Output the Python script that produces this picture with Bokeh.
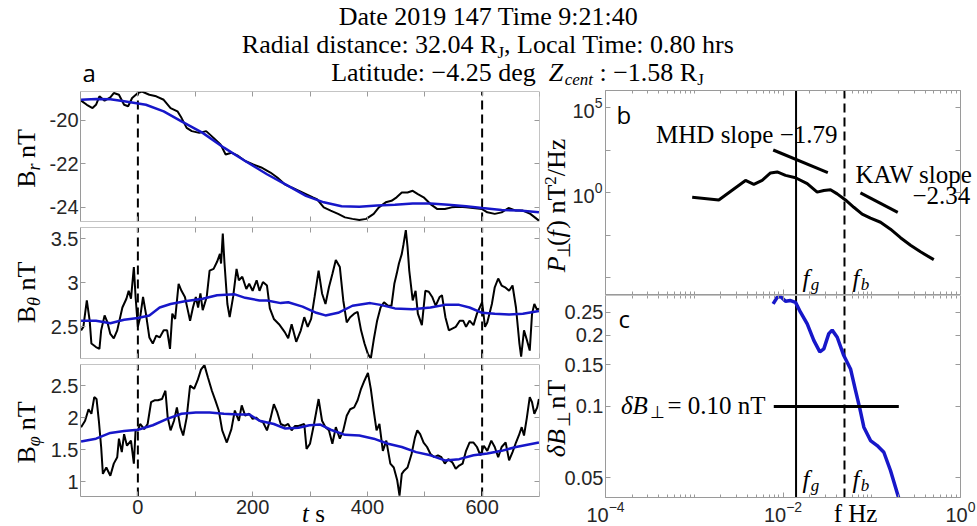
import math
from bokeh.plotting import figure
from bokeh.models import (Label, Range1d, FixedTicker, CustomJSTickFormatter,
                          LogTickFormatter, BoxAnnotation, LinearAxis, LogAxis)
from bokeh.layouts import column, row
from bokeh.embed import file_html
from bokeh.resources import INLINE

# ---------------------------------------------------------------- data
br_t = [-99, -89, -79, -73, -67, -58, -48, -42, -33, -24,
        -17, -10, 0, 7, 20, 32, 45, 57, 69, 76,
        85, 94, 107, 119, 132, 144, 153, 163, 175, 187,
        200, 215, 231, 243, 256, 268, 281, 293, 305, 312,
        324, 336, 349, 361, 374, 386, 398, 411, 420, 432,
        442, 451, 460, 470, 479, 488, 498, 510, 522, 535,
        547, 560, 572, 584, 600, 609, 622, 634, 646, 659,
        671, 684, 699]
br_v = [-19.10, -19.29, -19.44, -19.29, -18.90, -19.10, -18.95, -18.75, -18.83, -19.29,
        -19.36, -18.98, -18.75, -18.68, -18.83, -18.90, -19.06, -19.44, -19.59, -19.89,
        -20.35, -20.50, -20.58, -20.50, -20.81, -21.11, -21.57, -21.49, -21.64, -21.87,
        -22.02, -22.17, -22.40, -22.63, -22.94, -23.09, -23.24, -23.39, -23.54, -23.62,
        -24.00, -24.15, -24.30, -24.46, -24.53, -24.58, -24.53, -24.30, -24.00, -23.77,
        -23.70, -23.54, -23.32, -23.32, -23.24, -23.39, -23.54, -23.85, -24.08, -24.08,
        -24.00, -23.97, -24.00, -24.03, -24.08, -24.23, -24.30, -24.23, -24.03, -24.15,
        -24.15, -24.30, -24.61]
br_fit_t = [-99, -73, -48, -24, 14, 45, 76, 113, 150, 187, 225, 262, 293, 324, 355,
            386, 417, 448, 479, 510, 541, 572, 600, 634, 665, 699]
br_fit_v = [-19.06, -19.03, -19.04, -19.13, -19.29, -19.59, -20.05, -20.58, -21.26, -21.87,
            -22.48, -23.01, -23.47, -23.77, -23.95, -23.97, -23.92, -23.88, -23.82, -23.82,
            -23.88, -23.95, -24.03, -24.12, -24.15, -24.23]

bth_t = [-99, -95, -89, -84, -81, -73, -67, -64, -58, -53,
         -48, -42, -36, -27, -20, -16, -12, -7, -4, 0,
         4, 9, 14, 20, 26, 32, 38, 45, 51, 56,
         60, 65, 71, 76, 82, 87, 91, 96, 101, 105,
         109, 113, 120, 125, 132, 138, 143, 145, 148, 151,
         156, 160, 166, 172, 176, 182, 189, 194, 200, 207,
         212, 218, 225, 230, 237, 246, 256, 262, 268, 276,
         284, 290, 296, 302, 308, 315, 321, 327, 333, 339,
         345, 352, 358, 364, 370, 377, 383, 389, 395, 401,
         406, 411, 417, 423, 429, 436, 442, 447, 451, 455,
         460, 463, 467, 470, 473, 479, 484, 488, 495, 501,
         507, 513, 519, 526, 530, 536, 542, 548, 554, 561,
         567, 572, 578, 585, 591, 600, 605, 609, 617, 622,
         628, 634, 640, 647, 653, 659, 665, 668, 673, 678,
         683, 687, 691, 696, 699]
bth_v = [2.46, 2.50, 2.80, 2.57, 2.31, 2.27, 2.25, 2.46, 2.63, 2.55,
         2.42, 2.37, 2.46, 2.72, 2.82, 2.91, 2.82, 3.18, 2.84, 2.50,
         2.61, 2.84, 2.65, 2.38, 2.31, 2.40, 2.38, 2.46, 2.46, 2.25,
         2.65, 2.59, 2.99, 2.91, 2.84, 2.69, 2.57, 2.72, 2.84, 2.72,
         2.88, 2.69, 2.84, 3.14, 3.16, 3.24, 3.33, 3.22, 3.56, 3.22,
         2.76, 2.61, 2.84, 3.16, 3.03, 3.07, 2.93, 2.99, 2.91, 3.03,
         2.91, 3.01, 2.97, 2.71, 2.59, 2.53, 2.44, 2.37, 2.53, 2.33,
         2.46, 2.61, 2.50, 2.59, 2.84, 3.14, 2.88, 2.76, 2.95, 3.10,
         3.26, 3.18, 2.80, 2.55, 2.61, 2.65, 2.67, 2.46, 2.31, 2.19,
         2.14, 2.35, 2.57, 2.72, 2.78, 2.74, 2.74, 2.99, 3.10, 3.22,
         3.33, 3.44, 3.60, 3.41, 3.14, 2.80, 2.91, 2.65, 2.52, 2.91,
         2.90, 2.84, 2.74, 2.84, 2.86, 2.61, 2.46, 2.48, 2.50, 2.57,
         2.57, 2.50, 2.57, 2.52, 2.65, 2.78, 2.50, 2.55, 2.76, 2.95,
         3.05, 2.97, 2.95, 2.91, 2.97, 2.72, 2.31, 2.16, 2.46, 2.35,
         2.23, 2.65, 2.76, 2.69, 2.71]
bth_fit_t = [-99, -73, -48, -24, 0, 20, 38, 57, 82, 113, 138, 169, 187, 212, 225,
             249, 262, 287, 311, 327, 349, 374, 405, 423, 448, 479, 510, 535, 560, 578,
             600, 622, 647, 671, 699]
bth_fit_v = [2.57, 2.57, 2.54, 2.58, 2.60, 2.63, 2.72, 2.76, 2.79, 2.82, 2.86, 2.87, 2.83, 2.80, 2.80,
             2.77, 2.78, 2.73, 2.66, 2.63, 2.66, 2.74, 2.77, 2.75, 2.71, 2.70, 2.72, 2.75, 2.75, 2.72,
             2.66, 2.65, 2.64, 2.65, 2.68]

bph_t = [-99, -92, -86, -81, -76, -72, -68, -64, -61, -55,
         -48, -42, -36, -33, -28, -24, -19, -12, -7, -4,
         0, 4, 11, 17, 23, 29, 35, 42, 48, 52,
         57, 63, 68, 74, 79, 85, 91, 98, 104, 110,
         116, 122, 129, 135, 141, 147, 155, 163, 169, 176,
         181, 187, 194, 200, 206, 212, 218, 225, 231, 237,
         243, 249, 256, 262, 268, 274, 280, 290, 294, 300,
         307, 315, 321, 327, 333, 339, 345, 352, 358, 364,
         370, 377, 383, 389, 395, 401, 406, 411, 416, 421,
         427, 433, 440, 446, 452, 456, 460, 464, 470, 477,
         483, 487, 492, 498, 504, 510, 517, 523, 529, 535,
         541, 548, 554, 560, 566, 572, 578, 585, 591, 597,
         603, 609, 616, 622, 628, 634, 641, 647, 653, 659,
         664, 669, 673, 678, 683, 687, 691, 696, 699]
bph_v = [1.85, 1.95, 2.13, 2.06, 2.32, 2.29, 1.95, 1.54, 1.12, 1.22,
         1.09, 1.28, 1.38, 1.67, 1.46, 1.74, 1.56, 1.64, 1.28, 1.80,
         1.80, 1.90, 1.82, 1.90, 2.24, 2.27, 2.27, 2.29, 2.42, 2.00,
         1.80, 1.95, 2.16, 1.85, 1.72, 2.00, 2.50, 2.45, 2.58, 2.75,
         2.82, 2.63, 2.42, 2.27, 2.11, 1.80, 1.61, 1.82, 2.11, 1.95,
         2.19, 2.03, 2.06, 1.98, 2.00, 1.95, 1.93, 1.80, 1.98, 2.21,
         2.08, 1.90, 1.87, 1.90, 1.80, 1.87, 1.87, 1.90, 1.51, 1.59,
         1.90, 2.29, 1.95, 1.85, 1.80, 1.59, 1.85, 1.67, 1.80, 2.03,
         2.13, 2.16, 2.27, 2.45, 2.58, 2.70, 2.45, 2.11, 1.80, 1.90,
         1.48, 1.64, 1.28, 1.22, 1.02, 0.78, 1.12, 1.17, 1.22, 1.43,
         1.69, 1.80, 1.74, 1.61, 1.54, 1.43, 1.38, 1.41, 1.38, 1.28,
         1.35, 1.30, 1.20, 1.25, 1.28, 1.48, 1.61, 1.61, 1.54, 1.41,
         1.56, 1.48, 1.64, 1.54, 1.38, 1.54, 1.61, 1.33, 1.46, 1.61,
         1.72, 1.85, 1.72, 2.00, 2.32, 2.24, 2.06, 2.16, 2.29]
bph_fit_t = [-99, -73, -48, -24, 0, 26, 51, 76, 101, 125, 150, 175, 194, 212, 237,
             256, 280, 299, 318, 336, 361, 386, 411, 436, 460, 485, 510, 535, 560, 585,
             609, 634, 659, 699]
bph_fit_v = [1.625, 1.67, 1.76, 1.79, 1.81, 1.88, 1.98, 2.06, 2.08, 2.08, 2.06, 2.05, 2.05, 1.95, 1.90,
             1.83, 1.84, 1.88, 1.89, 1.81, 1.73, 1.72, 1.67, 1.59, 1.54, 1.46, 1.41, 1.33, 1.35, 1.41,
             1.44, 1.48, 1.54, 1.61]

window_edges = [0, 600]

t_ticks = [0, 200, 400, 600]
t_minor = [-100, 100, 300, 500, 700]
br_ticks = [-24, -22, -20]
bth_ticks = [2.5, 3, 3.5]
bph_ticks = [1, 1.5, 2, 2.5]

psd_f = [0.000948, 0.00189, 0.00378, 0.00469, 0.00582, 0.00723, 0.00861, 0.01067, 0.01384,
         0.01875, 0.02427, 0.02884, 0.03428, 0.04083, 0.05058, 0.06281, 0.07798, 0.09683,
         0.1256, 0.1626, 0.2109, 0.2735, 0.3540, 0.5000]
psd_p = [0.525, 0.363, 5.13, 3.02, 5.13, 14.1, 16.2, 10.2, 7.41,
         3.31, 1.05, 1.32, 1.45, 0.832, 0.363, 0.135, 0.0537, 0.0309,
         0.0178, 0.00692, 0.00219, 0.000794, 0.000324, 0.000112]
mhd_f = [0.00776, 0.0320]
mhd_p = [316.0, 14.8]
kaw_f = [0.0746, 0.1963]
kaw_p = [0.955, 0.0676]
f_g = 0.01403
f_b = 0.0493

db_f = [0.00774, 0.00861, 0.00938, 0.01067, 0.01216, 0.01384, 0.01574, 0.01875, 0.02223,
        0.02600, 0.02884, 0.03281, 0.03581, 0.04083, 0.04842, 0.05768, 0.06561, 0.07345,
        0.08147, 0.09683, 0.1151, 0.1368, 0.1626, 0.2005]
db_v = [0.271, 0.289, 0.291, 0.278, 0.280, 0.275, 0.250, 0.223, 0.190,
        0.170, 0.175, 0.203, 0.210, 0.196, 0.164, 0.144, 0.117, 0.098,
        0.0818, 0.0718, 0.0684, 0.0641, 0.0537, 0.0413]
db_level = 0.10
db_level_f = [0.00787, 0.2018]

f_ticks = [1e-4, 1e-2, 1.0]
f_minor = [k * 10.0 ** e for e in range(-4, 0) for k in range(1, 10) if not (k == 1 and e in (-4, -2))]
p_ticks = [1.0, 1e5]
p_minor = [1e-5, 10 ** -2.5, 10 ** 2.5]
db_ticks = [0.05, 0.1, 0.15, 0.2, 0.25]

title_1 = "Date 2019 147 Time 9:21:40"
title_2a, title_2b = "Radial distance: 32.04 R", ", Local Time: 0.80 hrs"
title_3a, title_3b = "Latitude: \u22124.25 deg  ", " : \u22121.58 R"

# ---------------------------------------------------------------- geometry (page px)
LX0, LX1 = 78, 539
RX0, RX1 = 605, 960
PA, PB, PC = (91, 221), (227, 358), (364, 496)
PD, PE = (90, 294), (295, 497)
BOTTOM = 526
RIGHT = 977
LSTRIP = 46         # width of the strip holding the left y labels
RCOL = 540          # left page edge of the right-hand panel column
T_RANGE = (-100, 700)
BR_RANGE = (-24.65, -18.68)
BTH_RANGE = (2.14, 3.63)
BPH_RANGE = (0.766, 2.83)
F_RANGE = (1e-4, 1.0)
P_RANGE = (1e-6, 1e6)
DB_RANGE = (0.0413, 0.294)

GRAY = "#9a9a9a"
TICKC = "#262626"
BLUE = "#1717c9"
SERIF = "Liberation Serif"
SANS = "Liberation Sans"
LETTER = "Open Sans"
TICK_SIZE = "20px"
TXT = 25


def make_conv(x0, x1, y0, y1, xr, yr, xlog=False, ylog=False):
    def one(frac, r, lg):
        if lg:
            a, b = math.log10(r[0]), math.log10(r[1])
            return 10 ** (a + frac * (b - a))
        return r[0] + frac * (r[1] - r[0])

    def conv(X, Y):
        fx = (X - x0) / (x1 - x0)
        fy = (y1 - Y) / (y1 - y0)
        return one(fx, xr, xlog), one(fy, yr, ylog)
    return conv


W = {' ': .25, 'a': .444, 'b': .5, 'c': .444, 'd': .5, 'e': .444, 'f': .333, 'g': .5, 'h': .5,
     'i': .278, 'j': .278, 'k': .5, 'l': .278, 'm': .778, 'n': .5, 'o': .5, 'p': .5, 'q': .5,
     'r': .333, 's': .389, 't': .278, 'u': .5, 'v': .5, 'w': .722, 'x': .5, 'y': .5, 'z': .444,
     'A': .722, 'B': .667, 'C': .667, 'D': .722, 'E': .611, 'F': .556, 'G': .722, 'H': .722,
     'I': .333, 'J': .389, 'K': .722, 'L': .611, 'M': .889, 'N': .722, 'O': .722, 'P': .556,
     'R': .667, 'S': .556, 'T': .611, 'W': .944, 'Z': .611, '.': .25, ',': .25, ':': .278,
     '\u2212': .564, '-': .333, '=': .564, '(': .333, ')': .333, '/': .278, '\u22a5': .66,
     '\u03b4': .49, '\u03b8': .5, '\u03c6': .52}


def tw(s, size):
    return sum(W.get(c, .5) for c in s) * size


def put(fig, conv, X, Y, text, size, style="normal", angle=0.0, font=SERIF, align="left"):
    """X, Y: page position of the start of the text baseline."""
    k = 0.388 if font == LETTER else 0.3375
    if angle == 0:
        Y = Y - k * size
    else:
        X = X - k * size
    x, y = conv(X, Y)
    fig.add_layout(Label(x=x, y=y, text=text, text_font=font, text_font_size=f"{size}px",
                         text_font_style=style, angle=angle, text_align=align,
                         text_baseline="middle", text_color="black"))


def hrow(fig, conv, X, Y, segs, anchor="left"):
    if len(segs) == 1 and anchor != "left":
        t, s, st, dy = segs[0]
        put(fig, conv, X, Y + dy, t, s, st, align=anchor)
        return
    total = sum(tw(t, s) for t, s, st, dy in segs)
    if anchor == "center":
        X -= total / 2
    elif anchor == "right":
        X -= total
    for t, s, st, dy in segs:
        body = t.lstrip(" ")
        X += tw(t[:len(t) - len(body)], s)
        put(fig, conv, X, Y + dy, body, s, st)
        X += tw(body, s)


def vrow(fig, conv, X, Yc, segs):
    total = sum(tw(t, s) for t, s, st, dy in segs)
    Y = Yc + total / 2
    for t, s, st, dy in segs:
        body = t.lstrip(" ")
        Y -= tw(t[:len(t) - len(body)], s)
        put(fig, conv, X + dy, Y, body, s, st, angle=math.pi / 2)
        Y -= tw(body, s)


def style_axis(ax, minor_in=3, standoff=3, labels=True):
    ax.axis_line_color = GRAY
    ax.major_tick_line_color = GRAY
    ax.minor_tick_line_color = GRAY
    ax.major_tick_in = 5
    ax.major_tick_out = 0
    ax.minor_tick_in = minor_in
    ax.minor_tick_out = 0
    ax.major_label_text_font = SANS
    ax.major_label_text_font_size = TICK_SIZE
    ax.major_label_text_color = TICKC if labels else None
    ax.major_label_standoff = standoff


def tick_axis(p, side, loc, ticks, minor=None, log=False, bounds=None, minor_in=3):
    """Box-edge tick marks without labels (fixed inside the frame, so no layout room)."""
    ax = (LogAxis if log else LinearAxis)(ticker=FixedTicker(ticks=ticks, minor_ticks=minor or []))
    ax.fixed_location = loc
    if bounds is not None:
        ax.bounds = bounds
    style_axis(ax, minor_in=minor_in, labels=False)
    p.add_layout(ax, side)


def bare(p):
    p.xgrid.grid_line_color = None
    p.ygrid.grid_line_color = None
    p.outline_line_color = None


def box(p, xr, yr):
    p.add_layout(BoxAnnotation(left=xr[0], right=xr[1], bottom=yr[0], top=yr[1],
                               fill_alpha=0, line_color=GRAY, line_width=1))


plain = CustomJSTickFormatter(code="return tick.toString();")
ident = lambda X, Y: (X, Y)


def text_strip(width, height, x0, y0):
    s = figure(width=width, height=height, x_range=Range1d(x0, x0 + width),
               y_range=Range1d(y0 + height, y0), output_backend="svg", toolbar_location=None,
               min_border=0, x_axis_location=None, y_axis_location=None)
    bare(s)
    return s


# ---------------------------------------------------------------- title
title = text_strip(RIGHT, 88, 0, 0)
hrow(title, ident, 488, 25, [(title_1, 26, "normal", 0)], anchor="center")
hrow(title, ident, 488, 53, [(title_2a, 26, "normal", 0), ("J", 17, "normal", 5),
                             (title_2b, 26, "normal", 0)], anchor="center")
hrow(title, ident, 517, 81, [(title_3a, 26, "normal", 0), ("Z", 26, "italic", 0),
                             ("cent", 17, "italic", 4), (title_3b, 26, "normal", 0),
                             ("J", 17, "normal", 4)], anchor="center")
put(title, ident, 82, 81, "a", 24, font=LETTER)

# ---------------------------------------------------------------- left y-label strip
lstrip = text_strip(LSTRIP, BOTTOM - 88, 0, 88)
vrow(lstrip, ident, 35, 158, [("B", 26, "normal", 0), ("r", 18, "italic", 5), (" nT", 26, "normal", 0)])
vrow(lstrip, ident, 35, 292, [("B", 26, "normal", 0), ("\u03b8", 18, "italic", 5), (" nT", 26, "normal", 0)])
vrow(lstrip, ident, 35, 432, [("B", 26, "normal", 0), ("\u03c6", 18, "italic", 5), (" nT", 26, "normal", 0)])


# ---------------------------------------------------------------- left panels
def left_fig(height, top, yr, yticks, last=False):
    yrange = yr
    if last:
        conv = make_conv(LX0, LX1, PC[0], PC[1], T_RANGE, yr)
        yrange = (conv(LX0, BOTTOM)[1], yr[1])
    p = figure(width=RCOL - LSTRIP, height=height, x_range=Range1d(*T_RANGE), y_range=Range1d(*yrange),
               output_backend="svg", toolbar_location=None,
               min_border_left=LX0 - LSTRIP, min_border_right=RCOL - LX1, min_border_top=top,
               min_border_bottom=0 if last else 3)
    bare(p)
    box(p, T_RANGE, yr)
    p.xaxis.ticker = FixedTicker(ticks=t_ticks, minor_ticks=t_minor)
    p.xaxis.formatter = plain
    p.xaxis.fixed_location = yr[0]
    style_axis(p.xaxis[0], minor_in=5, labels=last)
    p.yaxis.ticker = FixedTicker(ticks=yticks)
    p.yaxis.formatter = plain
    p.yaxis.bounds = yr
    style_axis(p.yaxis[0], standoff=2)
    tick_axis(p, "above", yr[1], t_ticks, t_minor, minor_in=5)
    tick_axis(p, "right", T_RANGE[1], yticks, bounds=yr)
    p.segment(x0=window_edges, x1=window_edges, y0=[yr[0]] * 2, y1=[yr[1]] * 2,
              line_color="black", line_width=2, line_dash="9 5")
    return p


pa = left_fig(136, 3, BR_RANGE, br_ticks)
pa.line(br_t, br_v, line_color="black", line_width=2)
pa.line(br_fit_t, br_fit_v, line_color=BLUE, line_width=2.5)

pb = left_fig(137, 3, BTH_RANGE, bth_ticks)
pb.line(bth_t, bth_v, line_color="black", line_width=2)
pb.line(bth_fit_t, bth_fit_v, line_color=BLUE, line_width=2.5)

pc = left_fig(BOTTOM - 361, 3, BPH_RANGE, bph_ticks, last=True)
pc.line(bph_t, bph_v, line_color="black", line_width=2)
pc.line(bph_fit_t, bph_fit_v, line_color=BLUE, line_width=2.5)
cc = make_conv(LX0, LX1, PC[0], PC[1], T_RANGE, BPH_RANGE)
hrow(pc, cc, 312, 521, [("t", TXT, "italic", 0), (" s", TXT, "normal", 0)], anchor="center")


# ---------------------------------------------------------------- right panels
# both figures use their whole canvas as frame; axes are fixed at the panel edges
def right_fig(top_page, bottom_page, conv, yr, yticks, yminor, labels_x):
    xr = (conv(RCOL, 0)[0], conv(RIGHT, 0)[0])
    yrange = (conv(0, bottom_page)[1], conv(0, top_page)[1])
    p = figure(width=RIGHT - RCOL, height=bottom_page - top_page, x_axis_type="log",
               y_axis_type="log", x_range=Range1d(*xr), y_range=Range1d(*yrange),
               output_backend="svg", toolbar_location=None, min_border=0)
    bare(p)
    box(p, F_RANGE, yr)
    p.xaxis.ticker = FixedTicker(ticks=f_ticks, minor_ticks=f_minor)
    p.xaxis.formatter = LogTickFormatter()
    p.xaxis.fixed_location = yr[0]
    p.xaxis.bounds = F_RANGE
    style_axis(p.xaxis[0], labels=labels_x)
    p.yaxis.ticker = FixedTicker(ticks=yticks, minor_ticks=yminor)
    p.yaxis.fixed_location = F_RANGE[0]
    p.yaxis.bounds = yr
    tick_axis(p, "above", yr[1], f_ticks, f_minor, log=True, bounds=F_RANGE)
    tick_axis(p, "right", F_RANGE[1], yticks, yminor, log=True, bounds=yr,
              minor_in=5 if yminor else 3)
    p.segment(x0=[f_g], x1=[f_g], y0=[yr[0]], y1=[yr[1]], line_color="black", line_width=2)
    p.segment(x0=[f_b], x1=[f_b], y0=[yr[0]], y1=[yr[1]], line_color="black", line_width=2,
              line_dash="9 5")
    return p


cd = make_conv(RX0, RX1, PD[0], PD[1], F_RANGE, P_RANGE, True, True)
pd_ = right_fig(88, 295, cd, P_RANGE, p_ticks, p_minor, False)
pd_.yaxis.formatter = LogTickFormatter()
style_axis(pd_.yaxis[0], minor_in=5)
pd_.line(psd_f, psd_p, line_color="black", line_width=3)
pd_.line(mhd_f, mhd_p, line_color="black", line_width=3)
pd_.line(kaw_f, kaw_p, line_color="black", line_width=3)
hrow(pd_, cd, 837, 142, [("MHD slope \u22121.79", TXT, "normal", 0)], anchor="right")
hrow(pd_, cd, 855, 182, [("KAW slope", TXT, "normal", 0)])
hrow(pd_, cd, 912, 203, [("\u22122.34", TXT, "normal", 0)])
hrow(pd_, cd, 802, 286, [("f", TXT, "italic", 0), ("g", 17, "italic", 4)])
hrow(pd_, cd, 852, 286, [("f", TXT, "italic", 0), ("b", 17, "italic", 4)])
put(pd_, cd, 616, 123, "b", 24, font=LETTER)
vrow(pd_, cd, 565, 205, [("P", 26, "italic", 0), ("\u22a5", 18, "normal", 5), ("(", 26, "normal", 0),
                         ("f", 26, "italic", 0), (") nT", 26, "normal", 0), ("2", 17, "normal", -9),
                         ("/Hz", 26, "normal", 0)])

ce = make_conv(RX0, RX1, PE[0], PE[1], F_RANGE, DB_RANGE, True, True)
pe = right_fig(295, BOTTOM, ce, DB_RANGE, db_ticks, [], True)
pe.yaxis.formatter = plain
style_axis(pe.yaxis[0], standoff=2)
pe.line(db_f, db_v, line_color=BLUE, line_width=3.5)
pe.line(db_level_f, [db_level, db_level], line_color="black", line_width=3)
hrow(pe, ce, 765, 413, [("\u03b4B", TXT, "italic", 0), ("\u22a5", 17, "normal", 5),
                        (" = 0.10 nT", TXT, "normal", 0)], anchor="right")
hrow(pe, ce, 802, 487, [("f", TXT, "italic", 0), ("g", 17, "italic", 4)])
hrow(pe, ce, 852, 487, [("f", TXT, "italic", 0), ("b", 17, "italic", 4)])
put(pe, ce, 618, 327, "c", 24, font=LETTER)
vrow(pe, ce, 565, 418, [("\u03b4B", 26, "italic", 0), ("\u22a5", 18, "normal", 5), (" nT", 26, "normal", 0)])
hrow(pe, ce, 855, 521, [("f Hz", TXT, "normal", 0)], anchor="center")

layout = column(title, row(lstrip, column(pa, pb, pc), column(pd_, pe)))
open("out.html", "w").write(file_html(layout, INLINE))
